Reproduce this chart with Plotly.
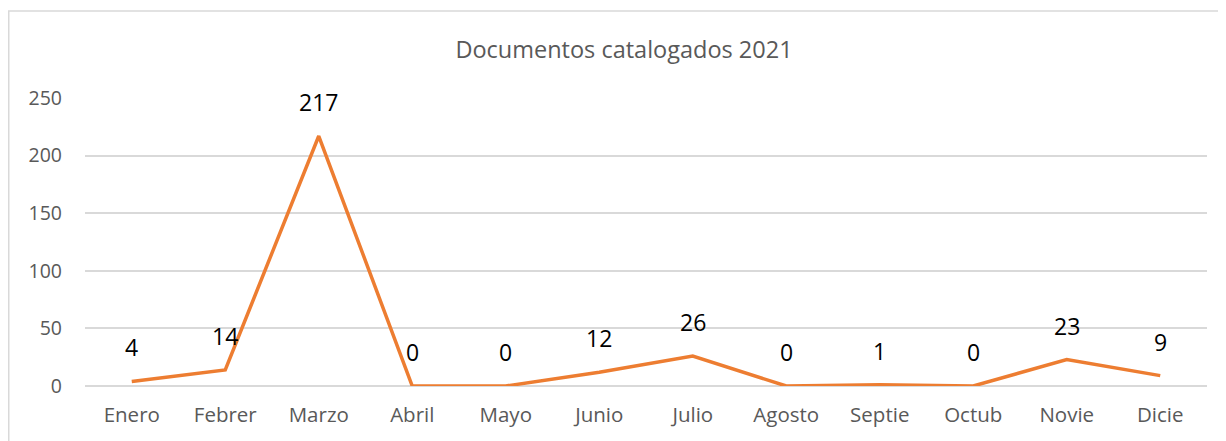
import plotly.graph_objects as go

months = ["Enero", "Febrer", "Marzo", "Abril", "Mayo", "Junio", "Julio",
          "Agosto", "Septie", "Octub", "Novie", "Dicie"]
values = [4, 14, 217, 0, 0, 12, 26, 0, 1, 0, 23, 9]
y_ticks = [0, 50, 100, 150, 200, 250]
title_text = "Documentos catalogados 2021"

# page body has an 8px margin, so the figure is sized to fit the window
W, H = 1218, 433
ml, mr, mt, mb = 77, 19, 90, 55
pw = W - ml - mr
ph = H - mt - mb

fig = go.Figure()
fig.add_trace(go.Scatter(
    x=months, y=values, mode="lines",
    line=dict(color="#ED7D31", width=3.5),
    hoverinfo="x+y", showlegend=False,
))

for m, v in zip(months, values):
    fig.add_annotation(x=m, y=v, text=str(v), showarrow=False,
                       yshift=34, font=dict(family="Open Sans", size=23, color="#000000"))

# outer chart border (left/top visible)
bx0 = (0.75 - ml) / pw
by1 = (H - mb - 3) / ph
fig.add_shape(type="rect", xref="paper", yref="paper",
              x0=bx0, x1=(W + 20 - ml) / pw, y0=-(mb + 20) / ph, y1=by1,
              line=dict(color="#D9D9D9", width=1.5), layer="below")

fig.update_layout(
    width=W, height=H,
    margin=dict(l=ml, r=mr, t=mt, b=mb),
    paper_bgcolor="white", plot_bgcolor="white",
    title=dict(text=title_text, x=616 / W, xanchor="center", xref="container",
               y=(H - 42) / H, yanchor="middle",
               font=dict(family="Open Sans", size=23.5, color="#595959")),
    xaxis=dict(showgrid=False, showline=False, zeroline=False,
               range=[-0.5, len(months) - 0.5],
               ticks="", tickfont=dict(family="Open Sans", size=20.5, color="#595959"),
               ticklabelstandoff=14, fixedrange=True),
    yaxis=dict(range=[0, 250], tickvals=y_ticks, showgrid=True,
               gridcolor="#D9D9D9", gridwidth=1.5, zeroline=True,
               zerolinecolor="#D9D9D9", zerolinewidth=1.5, showline=False,
               ticks="", tickfont=dict(family="Open Sans", size=19.5, color="#595959"),
               ticklabelstandoff=22, fixedrange=True),
)

fig.write_html("out.html")
